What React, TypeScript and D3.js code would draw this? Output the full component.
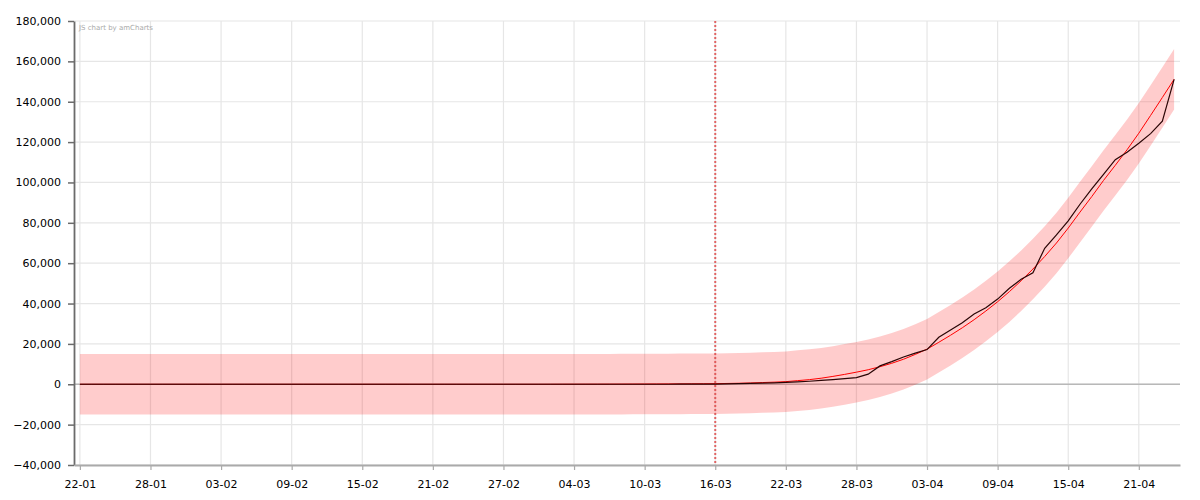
import React, { useEffect, useRef } from "react";
import * as d3 from "d3";

// one value per day, starting 22-01-2020
const startDay = Date.UTC(2020, 0, 22);

// reported cases (black line)
const actual = [
  0, 0, 0, 0, 0, 0, 0, 0, 0, 0,
  0, 0, 0, 0, 0, 0, 0, 0, 0, 0,
  0, 0, 0, 0, 0, 0, 0, 0, 0, 0,
  0, 0, 0, 0, 0, 0, 0, 0, 0, 0,
  0, 0, 0, 0, 0, 0, 0, 0, 0, 0,
  20, 40, 60, 90, 120, 200, 300, 400, 550, 700,
  900, 1200, 1500, 1900, 2300, 2800, 3300, 5000, 9100, 11200,
  13500, 15400, 17200, 23300, 26900, 30500, 34800, 37900, 42200, 47600,
  52000, 55200, 67400, 74000, 81000, 89200, 96800, 104000, 111300, 115000,
  119400, 124200, 130400, 151100,
];

// model fit (red line)
const fitted = [
  0, 0, 0, 0, 0, 0, 0, 0, 0, 0,
  0, 0, 0, 0, 0, 0, 0, 0, 0, 0,
  0, 0, 0, 0, 0, 0, 0, 0, 0, 0,
  0, 0, 0, 0, 0, 0, 0, 0, 0, 0,
  10, 20, 30, 40, 50, 60, 80, 100, 120, 140,
  170, 200, 230, 260, 300, 400, 500, 650, 850, 1050,
  1300, 1800, 2300, 3000, 3900, 4900, 6000, 7200, 8700, 10400,
  12400, 14800, 17400, 20800, 24300, 28000, 32000, 36300, 40900, 45900,
  51300, 57100, 63300, 70000, 77400, 85300, 93000, 101000, 108500, 116200,
  124400, 133200, 142100, 151100,
];

// half width of the pink band around the fit
const bandHalf = 15000;

const yTicks = [-40000, -20000, 0, 20000, 40000, 60000, 80000, 100000, 120000, 140000, 160000, 180000];
const xTickEvery = 6;
const markerDay = 54; // 16-03

const day = (i: number) => new Date(startDay + i * 86400000);

export default function App() {
  const svgRef = useRef<SVGSVGElement>(null);

  useEffect(() => {
    document.body.style.margin = "0";
    const svg = d3.select(svgRef.current);
    svg.selectAll("*").remove();

    const left = 74, right = 1180, top = 21, bottom = 465;
    const x = d3.scaleUtc()
      .domain([new Date(startDay - 43200000), new Date(startDay + (actual.length - 0.5) * 86400000)])
      .range([left, right]);
    const y = d3.scaleLinear().domain([-40000, 180000]).range([bottom, top]);

    const xTicks = d3.range(0, actual.length, xTickEvery).map(day);

    // grid
    const grid = svg.append("g");
    grid.selectAll(".hg").data(yTicks).join("line")
      .attr("x1", left).attr("x2", right)
      .attr("y1", d => y(d)).attr("y2", d => y(d))
      .attr("stroke", "#e6e6e6").attr("stroke-width", 1.2);
    grid.selectAll(".vg").data(xTicks).join("line")
      .attr("x1", d => x(d)).attr("x2", d => x(d))
      .attr("y1", top).attr("y2", bottom)
      .attr("stroke", "#e6e6e6").attr("stroke-width", 1.2);

    // zero line
    svg.append("line")
      .attr("x1", left).attr("x2", right)
      .attr("y1", y(0)).attr("y2", y(0))
      .attr("stroke", "#b8b8b8").attr("stroke-width", 1.5);

    // band
    const band = d3.area<number>()
      .x((d, i) => x(day(i)))
      .y0(d => y(d - bandHalf))
      .y1(d => y(d + bandHalf));
    svg.append("path").datum(fitted)
      .attr("d", band)
      .attr("fill", "#ff0000").attr("fill-opacity", 0.2);

    // marker line
    svg.append("line")
      .attr("x1", x(day(markerDay))).attr("x2", x(day(markerDay)))
      .attr("y1", top).attr("y2", bottom)
      .attr("stroke", "#dd4444").attr("stroke-opacity", 0.8)
      .attr("stroke-width", 2).attr("stroke-dasharray", "2,2");

    const myLine = d3.line<number>()
      .x((d, i) => x(day(i)))
      .y(d => y(d));
    svg.append("path").datum(fitted)
      .attr("d", myLine).attr("fill", "none")
      .attr("stroke", "#ff0000").attr("stroke-width", 1);
    svg.append("path").datum(actual)
      .attr("d", myLine).attr("fill", "none")
      .attr("stroke", "#2a0505").attr("stroke-width", 1.2);

    // axes
    const yAxis = d3.axisLeft(y).tickValues(yTicks).tickFormat(d3.format(",")).tickSize(6).tickSizeOuter(0).tickPadding(7);
    const gy = svg.append("g").attr("transform", `translate(${left},0)`).call(yAxis);
    gy.select(".domain").attr("stroke", "#6b6b6b").attr("stroke-width", 1.8);
    gy.selectAll(".tick line").attr("stroke", "#6b6b6b").attr("stroke-width", 1.5);

    const xAxis = d3.axisBottom(x).tickValues(xTicks).tickFormat(d3.utcFormat("%d-%m") as any).tickSize(5).tickSizeOuter(0).tickPadding(10);
    const gx = svg.append("g").attr("transform", `translate(0,${bottom})`).call(xAxis);
    gx.select(".domain").attr("stroke", "#aaaaaa").attr("stroke-width", 1.8);
    gx.selectAll(".tick line").attr("stroke", "#aaaaaa").attr("stroke-width", 1.2);

    svg.selectAll(".tick text")
      .attr("fill", "#000")
      .attr("font-family", "'DejaVu Sans', Verdana, sans-serif")
      .attr("font-size", 11);

    svg.append("text")
      .attr("x", left + 5).attr("y", top + 9)
      .attr("font-family", "'DejaVu Sans', Verdana, sans-serif")
      .attr("font-size", 7).attr("fill", "#aaa")
      .text("JS chart by amCharts");
  }, []);

  return (
    <svg ref={svgRef} width={1200} height={500} style={{ display: "block" }} />
  );
}
